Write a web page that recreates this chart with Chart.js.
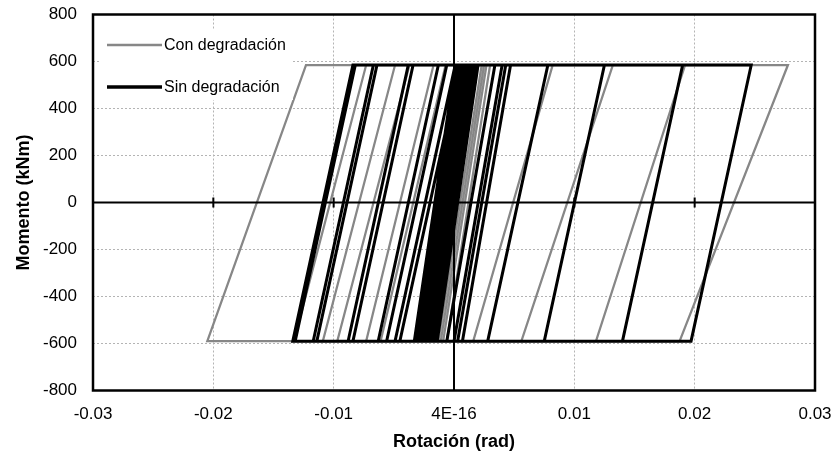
<!DOCTYPE html>
<html>
<head>
<meta charset="utf-8">
<script src="https://cdn.jsdelivr.net/npm/chart.js@4.4.1/dist/chart.umd.min.js"></script>
<style>
  body { margin: 0; background: #fff; }
  #wrap { width: 836px; height: 454px; }
</style>
</head>
<body>
<div id="wrap"><canvas id="momentChart" width="836" height="454"></canvas></div>
<script>
// Hysteresis paths: vertices in order (rotation in rad, moment in kNm)
const conDegRot = [
  0, 0.0018,
  0.0025, -0.0011, -0.0024, 0.0012,
  0.0027, -0.0009, -0.0029, 0.0007,
  0.0030, -0.0006, -0.0061, -0.0007,
  0.0023, -0.0013, -0.0073, -0.0017,
  0.0082, 0.0016, -0.0097, -0.0037,
  0.0132, 0.0056, -0.0109, -0.0049,
  0.0192, 0.0118, -0.0133, -0.0073,
  0.02775, 0.01875, -0.0205, -0.0123,
  0.0030
];
const conDegMom = [
  0, 585,
  585, -590, -590, 585,
  585, -590, -590, 585,
  585, -590, -590, 585,
  585, -590, -590, 585,
  585, -590, -590, 585,
  585, -590, -590, 585,
  585, -590, -590, 585,
  585, -590, -590, 585,
  585
];

const sinDegRot = [
  0, 0.0017,
  0.0020, -0.0014, -0.0030, 0.0004,
  0.0019, -0.0015, -0.0033, 0.0001,
  0.0018, -0.0016, -0.0028, 0.0006,
  0.0016, -0.0018, -0.0026, 0.0008,
  0.0014, -0.0020, -0.0031, 0.0003,
  0.0012, -0.0022, -0.0024, 0.0010,
  0.0017, -0.0017, -0.0022, 0.0012,
  0.0034, -0.0006, -0.0027, 0.0007,
  0.0040, 0.0000, -0.0029, 0.0005,
  0.0015, -0.0019, -0.0045, 0.0005,
  0.0043, 0.0003, -0.0049, 0.0001,
  0.0020, -0.0014, -0.0032, 0.0002,
  0.0047, 0.0007, -0.0056, -0.0006,
  0.0078, 0.0028, -0.0063, -0.0013,
  0.0019, -0.0015, -0.0084, -0.0034,
  0.0125, 0.0075, -0.0088, -0.0038,
  0.0017, -0.0017, -0.0114, -0.0064,
  0.0190, 0.0140, -0.0117, -0.0067,
  0.0018, -0.0016, -0.0132, -0.0082,
  0.0247, 0.0197, -0.0134, -0.0084,
  0.0020
];
const sinDegMom = [
  0, 585,
  585, -590, -590, 585,
  585, -590, -590, 585,
  585, -590, -590, 585,
  585, -590, -590, 585,
  585, -590, -590, 585,
  585, -590, -590, 585,
  585, -590, -590, 585,
  585, -590, -590, 585,
  585, -590, -590, 585,
  585, -590, -590, 585,
  585, -590, -590, 585,
  585, -590, -590, 585,
  585, -590, -590, 585,
  585, -590, -590, 585,
  585, -590, -590, 585,
  585, -590, -590, 585,
  585, -590, -590, 585,
  585, -590, -590, 585,
  585, -590, -590, 585,
  585, -590, -590, 585,
  585
];

const seriesNames = ['Con degradación', 'Sin degradación'];
const xTickLabels = ['-0.03', '-0.02', '-0.01', '4E-16', '0.01', '0.02', '0.03'];

const toPoints = (xs, ys) => xs.map((v, i) => ({ x: v, y: ys[i] }));

const GRAY = '#878787';
const FONT = '"Liberation Sans", Arial, sans-serif';

// frame, axes through the origin and the in-plot legend
const decorations = {
    id: 'decorations',
    afterDatasetsDraw(chart) {
        const { ctx, chartArea: a, scales: { x, y } } = chart;
        const x0 = x.getPixelForValue(0);
        const y0 = y.getPixelForValue(0);
        ctx.save();
        ctx.strokeStyle = '#000';
        ctx.lineWidth = 2;
        ctx.beginPath();
        ctx.moveTo(a.left, y0);
        ctx.lineTo(a.right, y0);
        ctx.moveTo(x0, a.top);
        ctx.lineTo(x0, a.bottom);
        x.ticks.forEach(t => {
            const px = x.getPixelForValue(t.value);
            ctx.moveTo(px, y0 - 5);
            ctx.lineTo(px, y0 + 5);
        });
        ctx.stroke();
        ctx.lineWidth = 2.5;
        ctx.strokeRect(a.left, a.top, a.width, a.height);
        ctx.restore();
    },
    afterDraw(chart) {
        const { ctx } = chart;
        const rows = [
            { label: seriesNames[0], color: GRAY, width: 2.5, y: 45 },
            { label: seriesNames[1], color: '#000', width: 3.5, y: 87 }
        ];
        ctx.save();
        ctx.fillStyle = '#fff';
        ctx.fillRect(101, 30, 192, 70);
        rows.forEach(r => {
            ctx.strokeStyle = r.color;
            ctx.lineWidth = r.width;
            ctx.beginPath();
            ctx.moveTo(107, r.y);
            ctx.lineTo(162, r.y);
            ctx.stroke();
            ctx.fillStyle = '#000';
            ctx.font = '16px ' + FONT;
            ctx.textBaseline = 'middle';
            ctx.fillText(r.label, 164, r.y + 1);
        });
        ctx.restore();
    }
};

Chart.defaults.font.family = FONT;
Chart.defaults.color = '#000';

const ctx = document.getElementById('momentChart').getContext('2d');
new Chart(ctx, {
    type: 'scatter',
    data: {
        datasets: [
            {
                label: seriesNames[0],
                data: toPoints(conDegRot, conDegMom),
                showLine: true,
                borderColor: GRAY,
                borderWidth: 2.25,
                pointRadius: 0,
                order: 2
            },
            {
                label: seriesNames[1],
                data: toPoints(sinDegRot, sinDegMom),
                showLine: true,
                borderColor: '#000',
                borderWidth: 3,
                pointRadius: 0,
                order: 1
            }
        ]
    },
    options: {
        responsive: false,
        animation: false,
        layout: { padding: { top: 14.5, right: 21, bottom: 0, left: 0 } },
        plugins: {
            legend: { display: false },
            tooltip: { enabled: false }
        },
        scales: {
            x: {
                type: 'linear',
                min: -0.03,
                max: 0.03,
                afterFit: scale => {
                    scale.height = 63.5;
                    scale.paddingLeft = 0;
                    scale.paddingRight = 0;
                },
                ticks: {
                    stepSize: 0.01,
                    padding: 14,
                    font: { size: 17 },
                    callback: value => xTickLabels[Math.round(value / 0.01) + 3]
                },
                grid: { color: '#b4b4b4', drawTicks: false },
                border: { display: false, dash: [2, 2] },
                title: {
                    display: true,
                    text: 'Rotación (rad)',
                    font: { size: 18, weight: 'bold' },
                    padding: { top: 0, bottom: 1 }
                }
            },
            y: {
                min: -800,
                max: 800,
                afterFit: scale => {
                    scale.width = 93;
                    scale.paddingTop = 0;
                    scale.paddingBottom = 0;
                },
                ticks: {
                    stepSize: 200,
                    padding: 16,
                    font: { size: 17 }
                },
                grid: { color: '#b4b4b4', drawTicks: false },
                border: { display: false, dash: [2, 2] },
                title: {
                    display: true,
                    text: 'Momento (kNm)',
                    font: { size: 18, weight: 'bold' },
                    padding: { top: 13, bottom: 0 }
                }
            }
        }
    },
    plugins: [decorations]
});
</script>
</body>
</html>
